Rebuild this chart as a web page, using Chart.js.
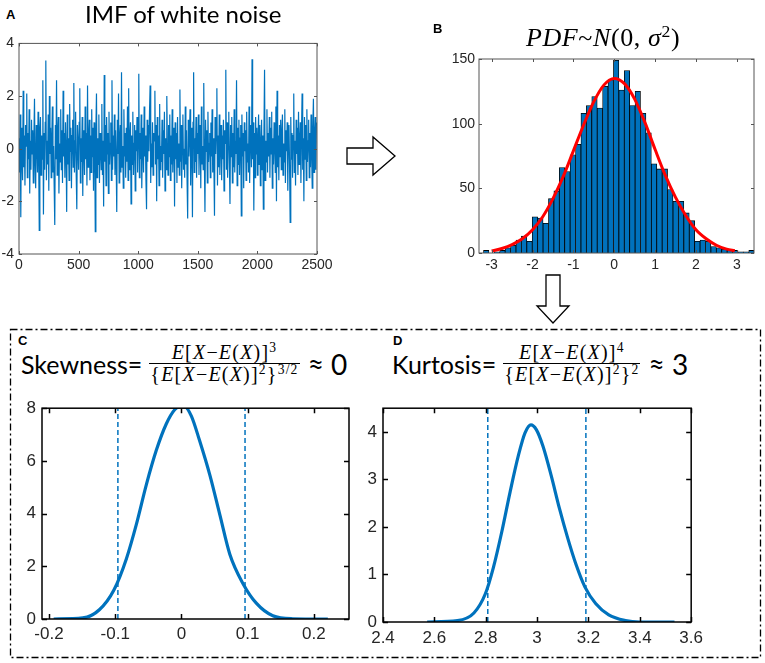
<!DOCTYPE html>
<html lang="en">
<head>
<meta charset="UTF-8">
<title>White noise IMF statistics</title>
<script src="https://cdn.jsdelivr.net/npm/chart.js"></script>
<style>
  body { margin: 0; background: #fff; }
  #fig { position: relative; width: 765px; height: 663px; overflow: hidden; }
  #fig canvas, #fig .txt, #fig svg { position: absolute; }
  .lab { font: bold 13px "Liberation Sans", Arial, sans-serif; color: #000; }
  .ttl { font: 24px Lato, sans-serif; color: #000; white-space: nowrap; }
  .math { font-family: "Liberation Serif", "DejaVu Serif", serif; }
  .formula { display: flex; align-items: center; white-space: nowrap; color: #000; }
  .formula .word { font: 25px Lato, sans-serif; }
  .frac { display: inline-flex; flex-direction: column; align-items: center; font: 20px "Liberation Serif", serif; letter-spacing: 1.2px; margin: 0 8px 0 7px; line-height: 21px; }
  .frac .den { border-top: 1px solid #000; align-self: stretch; text-align: center; padding: 0 1px; }
  .frac sup, .ttl sup { font-size: 0.68em; vertical-align: 0.5em; line-height: 0; }
  .formula .approx { font: 28px Lato, sans-serif; }
</style>
</head>
<body>
<div id="fig">
  <svg width="765" height="663">
    <rect x="10.5" y="329.5" width="750" height="328" fill="none" stroke="#000" stroke-width="1.3" stroke-dasharray="7 3 2 3"/>
    <polygon points="347,148 373,148 373,137 395,156 373,175 373,164 347,164" fill="#fff" stroke="#000" stroke-width="1.3"/>
    <polygon points="546,275 560,275 560,306 569,306 553,323 537,306 546,306" fill="#fff" stroke="#000" stroke-width="1.3"/>
  </svg>

  <canvas id="cA" width="340" height="250" style="left:0px;top:30px"></canvas>
  <canvas id="cB" width="325" height="235" style="left:440px;top:45px"></canvas>
  <canvas id="cC" width="350" height="252" style="left:14px;top:392px"></canvas>
  <canvas id="cD" width="345" height="262" style="left:364px;top:392px"></canvas>

  <div class="txt lab" style="left:6px;top:7px">A</div>
  <div class="txt ttl" style="left:85px;top:-1px">IMF of white noise</div>
  <div class="txt lab" style="left:433px;top:21px">B</div>
  <div class="txt ttl math" style="left:526px;top:23px;font-size:26px;letter-spacing:0.6px"><i>PDF</i>~<i>N</i>(0, <i>σ</i><sup>2</sup>)</div>

  <div class="txt lab" style="left:18px;top:333px">C</div>
  <div class="txt formula" style="left:21px;top:342px">
    <span class="word">Skewness=</span>
    <span class="frac">
      <span class="num"><i>E</i>[<i>X</i>−<i>E</i>(<i>X</i>)]<sup>3</sup></span>
      <span class="den">{<i>E</i>[<i>X</i>−<i>E</i>(<i>X</i>)]<sup>2</sup>}<sup>3/2</sup></span>
    </span>
    <span class="approx">≈ 0</span>
  </div>

  <div class="txt lab" style="left:393px;top:333px">D</div>
  <div class="txt formula" style="left:392px;top:342px">
    <span class="word">Kurtosis=</span>
    <span class="frac">
      <span class="num"><i>E</i>[<i>X</i>−<i>E</i>(<i>X</i>)]<sup>4</sup></span>
      <span class="den">{<i>E</i>[<i>X</i>−<i>E</i>(<i>X</i>)]<sup>2</sup>}<sup>2</sup></span>
    </span>
    <span class="approx">≈ 3</span>
  </div>
</div>

<script>
// A: IMF of white noise, one value every 5 samples
const noiseStep = 5;
const noise = [
  0.4, -0.9, 1.3, -2.6, 0.8, -0.3, -1.2, 2.2, -0.7, 0.5, -1.4, 0.9, 0.1, 2.1, -1.1, 0.6, -0.4, 1.5, -1.7, 0.3,
  -0.8, 1.1, -0.2, 0.7, -1.3, 0.4, 1.9, -0.6, -1.5, 0.9, 0.2, -0.9, 1.4, -0.3, -3.1, 0.8, 1.2, -1.0, 0.5, -0.4,
  2.6, -2.5, 0.6, -0.8, 1.0, 3.35, -1.2, 0.3, -0.6, 1.3, -1.6, 2.0, -0.2, 0.8, -1.1, 0.4, 1.6, -0.9, 0.1, -1.4,
  -2.9, 0.9, -0.4, 2.6, -1.0, 0.5, 1.2, -1.7, 0.2, -0.5, 1.5, -0.8, 0.7, -1.3, 2.2, -0.3, 0.6, -1.1, 1.0, 0.0,
  -2.4, 1.3, -0.6, 0.4, -1.2, 1.7, -0.1, 0.8, -1.5, 0.5, 1.1, -0.7, 2.5, -0.9, 0.3, 1.4, -1.0, -2.3, 0.9, 0.2,
  -0.8, 1.0, 2.3, -1.3, 0.4, -0.5, 1.2, -1.8, 0.7, 0.1, -1.0, 1.6, -0.4, 0.6, -1.4, 2.4, -0.7, 0.3, 1.1, -1.2,
  0.5, -0.9, 1.5, -0.3, 0.8, -1.6, 1.0, 0.2, -3.15, 0.7, 2.1, -1.1, 0.4, -0.6, 1.3, -1.3, 0.6, 0.0, -0.8, 1.7,
  -1.0, 0.3, -2.2, 2.8, -0.5, 0.9, -1.4, 1.2, -0.2, 0.6, -1.7, 1.4, -0.6, 0.2, 1.0, -1.2, 2.6, -0.8, 0.5, -0.3,
  1.3, -1.0, 0.7, -0.4, -2.4, 1.1, -0.2, 2.1, -1.3, 0.4, 0.9, -0.9, 2.9, -0.7, 0.1, -1.5, 1.5, -0.3, 0.6, -1.1,
  0.8, -0.5, 1.6, -1.2, 2.3, -0.8, 0.3, 1.0, -2.1, 0.5, -0.6, 1.4, -1.0, 0.2, 0.9, -1.6, 0.7, -0.1, 1.2, -0.9,
  0.4, 2.85, -1.1, 0.6, -0.4, 1.3, -1.5, 0.1, 0.8, -0.9, 1.6, -0.3, 0.5, -1.2, -2.3, 1.1, -0.5, 0.9, -0.1, 1.4,
  2.4, -1.3, 0.2, -0.7, 1.0, -1.0, 0.6, 0.3, 2.2, -0.6, 0.9, -2.0, 1.2, -0.4, 0.5, -1.4, 1.7, -0.8, 0.1, -0.5,
  1.1, -1.1, 0.7, -0.2, 1.4, -1.6, 0.4, -0.8, 2.0, 0.1, -1.0, 0.9, -0.3, 1.3, -1.2, 0.5, -0.6, 1.5, -0.9, 0.3,
  0.8, -2.2, 1.0, -0.4, 0.6, -1.3, 1.2, -0.7, 0.2, -1.0, 2.25, -0.5, 0.9, -1.5, 0.4, 1.3, -0.8, 0.0, -1.1, 1.6,
  -0.6, 0.7, -1.2, -2.65, 1.1, -0.3, 0.5, 1.5, -1.4, 0.2, 0.8, -2.6, 1.0, 2.9, -0.9, 0.4, -0.5, 1.2, -1.1, 0.6,
  -0.2, 1.3, -1.0, 0.3, 0.9, -1.5, 1.6, -0.6, 0.1, -0.8, 2.5, -0.4, -2.4, 1.1, -0.1, 0.7, -1.3, 1.4, -0.5, 0.2,
  0.6, -1.1, 1.0, -0.3, 1.5, -0.9, 0.4, -0.6, -2.55, 1.2, -0.2, 0.8, 2.3, -1.4, 0.5, -0.7, 1.3, -1.0, 0.3, 0.9,
  -1.2, 0.5, -0.4, 1.1, -1.6, 0.7, 0.2, 3.0, -0.8, 1.0, -1.1, 0.4, 1.4, -0.5, -2.1, 0.9, -0.3, 1.2, -1.3, 0.6,
  -0.7, 1.5, -0.9, 0.3, -0.2, 2.6, -1.4, 0.8, -0.6, 1.1, -1.0, 0.4, 0.9, -2.55, 1.3, -0.3, 0.6, -1.5, 1.0, -0.1,
  0.7, -1.2, 1.4, -0.5, 0.2, -0.9, 1.6, -1.3, 0.5, 0.9, -0.7, 3.4, -0.4, 1.0, -2.35, 0.6, -1.1, 1.2, -0.2, 0.8,
  -1.0, 0.4, 1.3, -0.6, 0.9, -1.4, 0.2, 1.1, -0.8, 0.5, -2.3, 0.7, 3.0, -1.2, 0.3, -0.5, 1.5, -0.9, 0.6, -0.3,
  1.2, -1.1, 0.8, -0.2, 1.4, -1.5, 0.4, -0.6, 1.0, 0.1, -0.9, 1.6, -2.0, 2.2, -0.7, 0.5, -1.2, 0.9, -0.3, 1.1,
  -0.8, 0.6, 1.3, -1.0, 0.2, -0.5, 1.5, -1.3, 0.7, -0.1, 1.0, -1.6, 0.4, 0.9, -0.7, -2.8, 1.2, -0.4, 0.6, -1.1,
  0.5, 2.1, -0.9, 0.3, -1.4, 1.1, -0.2, 0.8, -1.0, 1.4, -0.6, 0.2, 1.0, -1.3, 0.6, 2.1, -0.8, 0.4, -2.0, 1.2,
  -0.4, 0.9, -1.2, 1.5, -0.5, 0.3, 1.1, -1.1, 0.6, -0.7, 1.3, -0.2, -1.5, 0.8, 1.9, -0.9, 0.5, 1.2, -0.8, 1.0
];

// B: histogram (50 bins) and fitted normal curve
const binStart = -3.2;
const binWidth = 0.1325;
const histCounts = [2, 0, 1, 2, 4, 6, 10, 13, 9, 28, 27, 23, 42, 48, 66, 63, 76, 84, 108, 114,
  121, 112, 129, 134, 149, 126, 141, 114, 125, 108, 93, 69, 65, 65, 49, 40, 40, 31, 25, 9,
  10, 9, 5, 4, 3, 2, 2, 1, 1, 2];
const fitX = [-3, -2.75, -2.5, -2.25, -2, -1.75, -1.5, -1.25, -1, -0.75, -0.5, -0.25, 0, 0.25, 0.5, 0.75, 1, 1.25, 1.5, 1.75, 2, 2.25, 2.5, 2.75, 2.95];
const fitY = [1.5, 3.5, 6.5, 11, 18, 28, 42, 59, 79, 99, 117, 130, 135, 131, 119, 101, 80, 60, 43, 29, 18, 11, 6, 3, 1.7];

// C: skewness density and its bounds
const skewX = [-0.193, -0.149, -0.124, -0.102, -0.083, -0.068, -0.053, -0.038, -0.023, -0.010, -0.003, 0.005, 0.015, 0.027, 0.043, 0.058, 0.073, 0.093, 0.113, 0.138, 0.168, 0.221];
const skewY = [0, 0.04, 0.35, 1.1, 2.3, 3.6, 5.1, 6.4, 7.4, 7.95, 8.05, 8.05, 7.7, 6.8, 5.45, 3.95, 2.46, 1.34, 0.6, 0.12, 0.01, 0];
const skewBounds = [-0.096, 0.096];

// D: kurtosis density and its bounds
const kurtX = [2.572, 2.69, 2.754, 2.799, 2.83, 2.863, 2.895, 2.927, 2.953, 2.976, 2.997, 3.023, 3.055, 3.087, 3.119, 3.151, 3.186, 3.228, 3.279, 3.344, 3.40, 3.535];
const kurtY = [0, 0.03, 0.19, 0.6, 1.15, 1.91, 2.74, 3.5, 3.98, 4.15, 4.05, 3.7, 3.08, 2.39, 1.77, 1.22, 0.74, 0.39, 0.15, 0.03, 0, 0];
const kurtBounds = [2.808, 3.19];

const blue = '#0072BD';

// box round the axes with inward ticks on all four sides (MATLAB look)
const frame = {
  id: 'frame',
  afterDatasetsDraw(chart, args, opts) {
    const { ctx, chartArea: a, scales: { x, y } } = chart;
    const t = opts.tick;
    ctx.save();
    ctx.strokeStyle = opts.color;
    ctx.lineWidth = opts.width;
    ctx.beginPath();
    x.ticks.forEach(tk => {
      const p = Math.round(x.getPixelForValue(tk.value)) + 0.5;
      ctx.moveTo(p, a.bottom); ctx.lineTo(p, a.bottom - t);
      ctx.moveTo(p, a.top); ctx.lineTo(p, a.top + t);
    });
    y.ticks.forEach(tk => {
      const p = Math.round(y.getPixelForValue(tk.value)) + 0.5;
      ctx.moveTo(a.left, p); ctx.lineTo(a.left + t, p);
      ctx.moveTo(a.right, p); ctx.lineTo(a.right - t, p);
    });
    ctx.stroke();
    ctx.strokeRect(a.left, a.top, a.right - a.left, a.bottom - a.top);
    ctx.restore();
  }
};

function makeOptions(o) {
  const tick = {
    color: '#262626',
    font: { family: '"Liberation Sans", Arial, sans-serif', size: o.font },
    callback: v => String(+v.toFixed(2)),
    maxRotation: 0,
    autoSkip: false,
    includeBounds: false
  };
  const grid = { display: false, drawTicks: false };
  return {
    responsive: false,
    animation: false,
    layout: { padding: { top: o.top, right: o.right, left: 0, bottom: 0 } },
    plugins: { legend: { display: false }, tooltip: { enabled: false },
      frame: { color: o.frameColor, width: o.frameWidth, tick: o.tick } },
    scales: {
      x: { type: 'linear', min: o.x[0], max: o.x[1], offset: false,
        grid: grid, border: { display: false },
        ticks: { ...tick, stepSize: o.x[2], padding: o.xPad },
        afterFit: s => { s.height = o.xH; } },
      y: { type: 'linear', min: o.y[0], max: o.y[1],
        grid: grid, border: { display: false },
        ticks: { ...tick, stepSize: o.y[2], padding: o.yPad },
        afterFit: s => { s.width = o.yW; } }
    }
  };
}

function boundLines(xs, top) {
  return xs.map(v => ({
    data: [{ x: v, y: 0 }, { x: v, y: top }],
    borderColor: blue, borderWidth: 1.5, borderDash: [5, 3], pointRadius: 0
  }));
}

// A
new Chart(document.getElementById('cA'), {
  type: 'line',
  data: { datasets: [{
    data: noise.map((v, i) => ({ x: i * noiseStep, y: v })),
    borderColor: blue, borderWidth: 1.2, pointRadius: 0, tension: 0
  }] },
  options: makeOptions({ x: [0, 2500, 500], y: [-4, 4, 2], yW: 19, xH: 26, top: 12, right: 23,
    font: 14, xPad: 3, yPad: 5, frameColor: '#555', frameWidth: 1, tick: 3 }),
  plugins: [frame]
});

// B
new Chart(document.getElementById('cB'), {
  type: 'bar',
  data: { datasets: [
    { type: 'line', order: 0, data: fitX.map((v, i) => ({ x: v, y: fitY[i] })),
      borderColor: '#FF0000', borderWidth: 3, pointRadius: 0, tension: 0.4, cubicInterpolationMode: 'monotone' },
    { type: 'bar', order: 1, data: histCounts.map((c, i) => ({ x: binStart + binWidth * (i + 0.5), y: c })),
      backgroundColor: blue, borderColor: '#000', borderWidth: 0.8,
      barPercentage: 1, categoryPercentage: 1 }
  ] },
  options: makeOptions({ x: [-3.31, 3.42, 1], y: [0, 150, 50], yW: 39, xH: 27, top: 14, right: 11,
    font: 14, xPad: 4, yPad: 4, frameColor: '#555', frameWidth: 1, tick: 3 }),
  plugins: [frame]
});

// C
new Chart(document.getElementById('cC'), {
  type: 'line',
  data: { datasets: [
    { data: skewX.map((v, i) => ({ x: v, y: skewY[i] })), borderColor: blue, borderWidth: 3.2,
      pointRadius: 0, cubicInterpolationMode: 'monotone', clip: 0 },
    ...boundLines(skewBounds, 8)
  ] },
  options: makeOptions({ x: [-0.2106, 0.253, 0.1], y: [0, 8, 2], yW: 28, xH: 25, top: 13, right: 15,
    font: 17, xPad: 5, yPad: 6, frameColor: '#000', frameWidth: 1.5, tick: 5 }),
  plugins: [frame]
});

// D
new Chart(document.getElementById('cD'), {
  type: 'line',
  data: { datasets: [
    { data: kurtX.map((v, i) => ({ x: v, y: kurtY[i] })), borderColor: blue, borderWidth: 3.2,
      pointRadius: 0, cubicInterpolationMode: 'monotone', clip: 0 },
    ...boundLines(kurtBounds, 4.5)
  ] },
  options: makeOptions({ x: [2.4, 3.6, 0.2], y: [0, 4.5, 1], yW: 19, xH: 32, top: 13, right: 14,
    font: 17, xPad: 6, yPad: 6, frameColor: '#000', frameWidth: 1.5, tick: 5 }),
  plugins: [frame]
});
</script>
</body>
</html>
